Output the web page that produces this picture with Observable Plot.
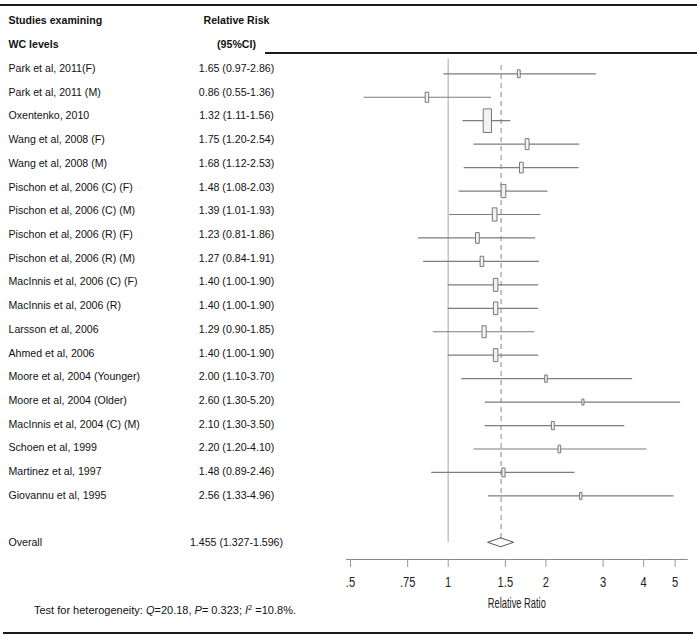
<!DOCTYPE html>
<html>
<head>
<meta charset="utf-8">
<script src="https://cdn.jsdelivr.net/npm/d3@7"></script>
<script src="https://cdn.jsdelivr.net/npm/@observablehq/plot@0.6"></script>
<style>
  html, body { margin: 0; padding: 0; background: #fff; }
  #wrap { position: relative; width: 697px; height: 639px; overflow: hidden; font-family: "Liberation Sans", Arial, sans-serif; }
  #wrap svg { position: absolute; top: 0; left: 0; }
  .rule { position: absolute; height: 2px; background: #1a1a1a; }
  #note { position: absolute; left: 0; width: 330px; top: 603px; line-height: 14px; font-size: 11px; text-align: center; color: #111; }
  #note sup { font-size: 7.5px; vertical-align: 4px; line-height: 0; }
</style>
</head>
<body>
<div id="wrap">
  <div class="rule" style="top:4px;left:0;width:697px"></div>
  <div class="rule" style="top:52px;left:265px;width:432px"></div>
  <div class="rule" style="top:632px;left:3px;width:690px"></div>
  <div id="note">Test for heterogeneity: <i>Q</i>=20.18, <i>P</i>= 0.323; <i>I</i><sup>2</sup> =10.8%.</div>
</div>
<script>
const FONT = '"Liberation Sans", Arial, sans-serif';

// ---- data ----
const studyNames = [
  "Park et al, 2011(F)", "Park et al, 2011 (M)", "Oxentenko, 2010",
  "Wang et al, 2008 (F)", "Wang et al, 2008 (M)",
  "Pischon et al, 2006 (C) (F)", "Pischon et al, 2006 (C) (M)",
  "Pischon et al, 2006 (R) (F)", "Pischon et al, 2006 (R) (M)",
  "MacInnis et al, 2006 (C) (F)", "MacInnis et al, 2006 (R)",
  "Larsson et al, 2006", "Ahmed et al, 2006",
  "Moore et al, 2004 (Younger)", "Moore et al, 2004 (Older)",
  "MacInnis et al, 2004 (C) (M)", "Schoen et al, 1999",
  "Martinez et al, 1997", "Giovannu et al, 1995"
];
const rrValues = [1.65, 0.86, 1.32, 1.75, 1.68, 1.48, 1.39, 1.23, 1.27, 1.40, 1.40, 1.29, 1.40, 2.00, 2.60, 2.10, 2.20, 1.48, 2.56];
const ciLower  = [0.97, 0.55, 1.11, 1.20, 1.12, 1.08, 1.01, 0.81, 0.84, 1.00, 1.00, 0.90, 1.00, 1.10, 1.30, 1.30, 1.20, 0.89, 1.33];
const ciUpper  = [2.86, 1.36, 1.56, 2.54, 2.53, 2.03, 1.93, 1.86, 1.91, 1.90, 1.90, 1.85, 1.90, 3.70, 5.20, 3.50, 4.10, 2.46, 4.96];
const weights  = [2.5, 4.0, 22.1, 4.8, 4.5, 7.0, 7.0, 4.5, 4.2, 6.7, 6.4, 5.7, 6.7, 2.1, 1.4, 2.7, 2.3, 3.2, 1.9];
const overallLabel = "Overall";
const overallRR = 1.455, overallLo = 1.327, overallHi = 1.596;
const tickValues = [0.5, 0.75, 1, 1.5, 2, 3, 4, 5];
const tickLabels = [".5", ".75", "1", "1.5", "2", "3", "4", "5"];
const headerLeft = ["Studies examining", "WC levels"];
const headerRight = ["Relative Risk", "(95%CI)"];
const axisTitle = "Relative Ratio";

// ---- tables built from arrays ----
const studies = studyNames.map((name, i) => ({
  i, name, rr: rrValues[i], lo: ciLower[i], hi: ciUpper[i], w: weights[i],
  ci: `${rrValues[i].toFixed(2)} (${ciLower[i].toFixed(2)}-${ciUpper[i].toFixed(2)})`
}));
const overallRow = studies.length + 1; // one blank row before the pooled estimate
const overallText = `${overallRR.toFixed(3)} (${overallLo.toFixed(3)}-${overallHi.toFixed(3)})`;
const headerRows = [-2, -1];
const header = headerRows.flatMap((r, k) => [
  {col: "study", row: r, text: headerLeft[k], anchor: "start"},
  {col: "rr", row: r, text: headerRight[k], anchor: "middle"}
]);

const diamondHalf = 0.19;
const diamond = [
  {y: overallRow - diamondHalf, x1: overallRR, x2: overallRR},
  {y: overallRow, x1: overallLo, x2: overallHi},
  {y: overallRow + diamondHalf, x1: overallRR, x2: overallRR}
];

// tall rectangular box symbol (area ∝ weight)
const boxSymbol = {
  draw(context, size) {
    const h = Math.sqrt(size / Math.PI);
    const w = h / 2.85;
    context.moveTo(-w, -h);
    context.lineTo(w, -h);
    context.lineTo(w, h);
    context.lineTo(-w, h);
    context.closePath();
  }
};

// ---- left table ----
const table = Plot.plot({
  width: 346, height: 639, margin: 0,
  x: {type: "point", domain: ["study", "rr"], range: [8, 236], padding: 0, axis: null},
  y: {domain: [0, 20], range: [68, 542.4], axis: null},
  style: {fontFamily: FONT, background: "transparent", overflow: "visible"},
  marks: [
    Plot.text(header.filter(d => d.anchor === "start"), {x: "col", y: "row", text: "text", textAnchor: "start", fontWeight: "bold", fontSize: 10.6, fill: "#111"}),
    Plot.text(header.filter(d => d.anchor === "middle"), {x: "col", y: "row", text: "text", textAnchor: "middle", fontWeight: "bold", fontSize: 10.6, fill: "#111"}),
    Plot.text(studies, {x: () => "study", y: "i", text: "name", textAnchor: "start", fontSize: 10.6, fill: "#111"}),
    Plot.text(studies, {x: () => "rr", y: "i", text: "ci", textAnchor: "middle", fontSize: 10.6, fill: "#111"}),
    Plot.text([overallLabel], {x: () => "study", y: () => overallRow, text: d => d, textAnchor: "start", fontSize: 10.6, fill: "#111"}),
    Plot.text([overallText], {x: () => "rr", y: () => overallRow, text: d => d, textAnchor: "middle", fontSize: 10.6, fill: "#111"})
  ]
});

// ---- forest plot ----
const forest = Plot.plot({
  width: 697, height: 639,
  marginLeft: 346, marginRight: 10.3, marginTop: 58, marginBottom: 80,
  x: {type: "log", domain: [0.4861, 5.447]},
  y: {domain: [0, 20], range: [73.3, 542.3], axis: null},
  r: {domain: [0, 22.1], range: [0, 11.8]},
  style: {fontFamily: FONT, background: "transparent", overflow: "visible"},
  marks: [
    Plot.ruleX([1], {y1: -0.63, y2: overallRow, stroke: "#c4c4c4", strokeWidth: 1.5}),
    Plot.ruleX([overallRR], {y1: -0.35, y2: overallRow - diamondHalf, stroke: "#9a9a9a", strokeWidth: 1.2, strokeDasharray: "5,4"}),
    Plot.ruleY(studies, {y: "i", x1: "lo", x2: "hi", stroke: "#7d7d7d", strokeWidth: 1.2}),
    Plot.dot(studies, {x: "rr", y: "i", r: "w", symbol: boxSymbol, fill: "#f2f2f2", stroke: "#777", strokeWidth: 1}),
    Plot.areaX(diamond, {y: "y", x1: "x1", x2: "x2", fill: "white", stroke: "#555", strokeWidth: 1}),
    Plot.frame({anchor: "bottom", stroke: "#888"}),
    Plot.axisX({ticks: tickValues, tickFormat: (d) => tickLabels[tickValues.indexOf(d)], tickSize: 8, tickPadding: 8, fontSize: 15.5, stroke: "#999", fill: "#222", label: null}),
    Plot.text([axisTitle], {text: d => d, frameAnchor: "bottom", dy: 48, lineAnchor: "bottom", fontSize: 14.8, fill: "#222"})
  ]
});

const wrap = document.getElementById("wrap");
wrap.appendChild(table);
wrap.appendChild(forest);

// condensed lettering of the axis text (glyphs squeezed in place)
function condense(svg, strings, size, sx) {
  svg.querySelectorAll("text").forEach(t => {
    if (strings.includes(t.textContent)) {
      t.style.fontSize = size + "px";
      const L = t.getComputedTextLength();
      if (L > 0) {
        t.setAttribute("textLength", (L * sx).toFixed(2));
        t.setAttribute("lengthAdjust", "spacingAndGlyphs");
      }
    }
  });
}
condense(forest, tickLabels, 15.5, 0.72);
condense(forest, [axisTitle], 14.8, 0.63);
</script>
</body>
</html>
